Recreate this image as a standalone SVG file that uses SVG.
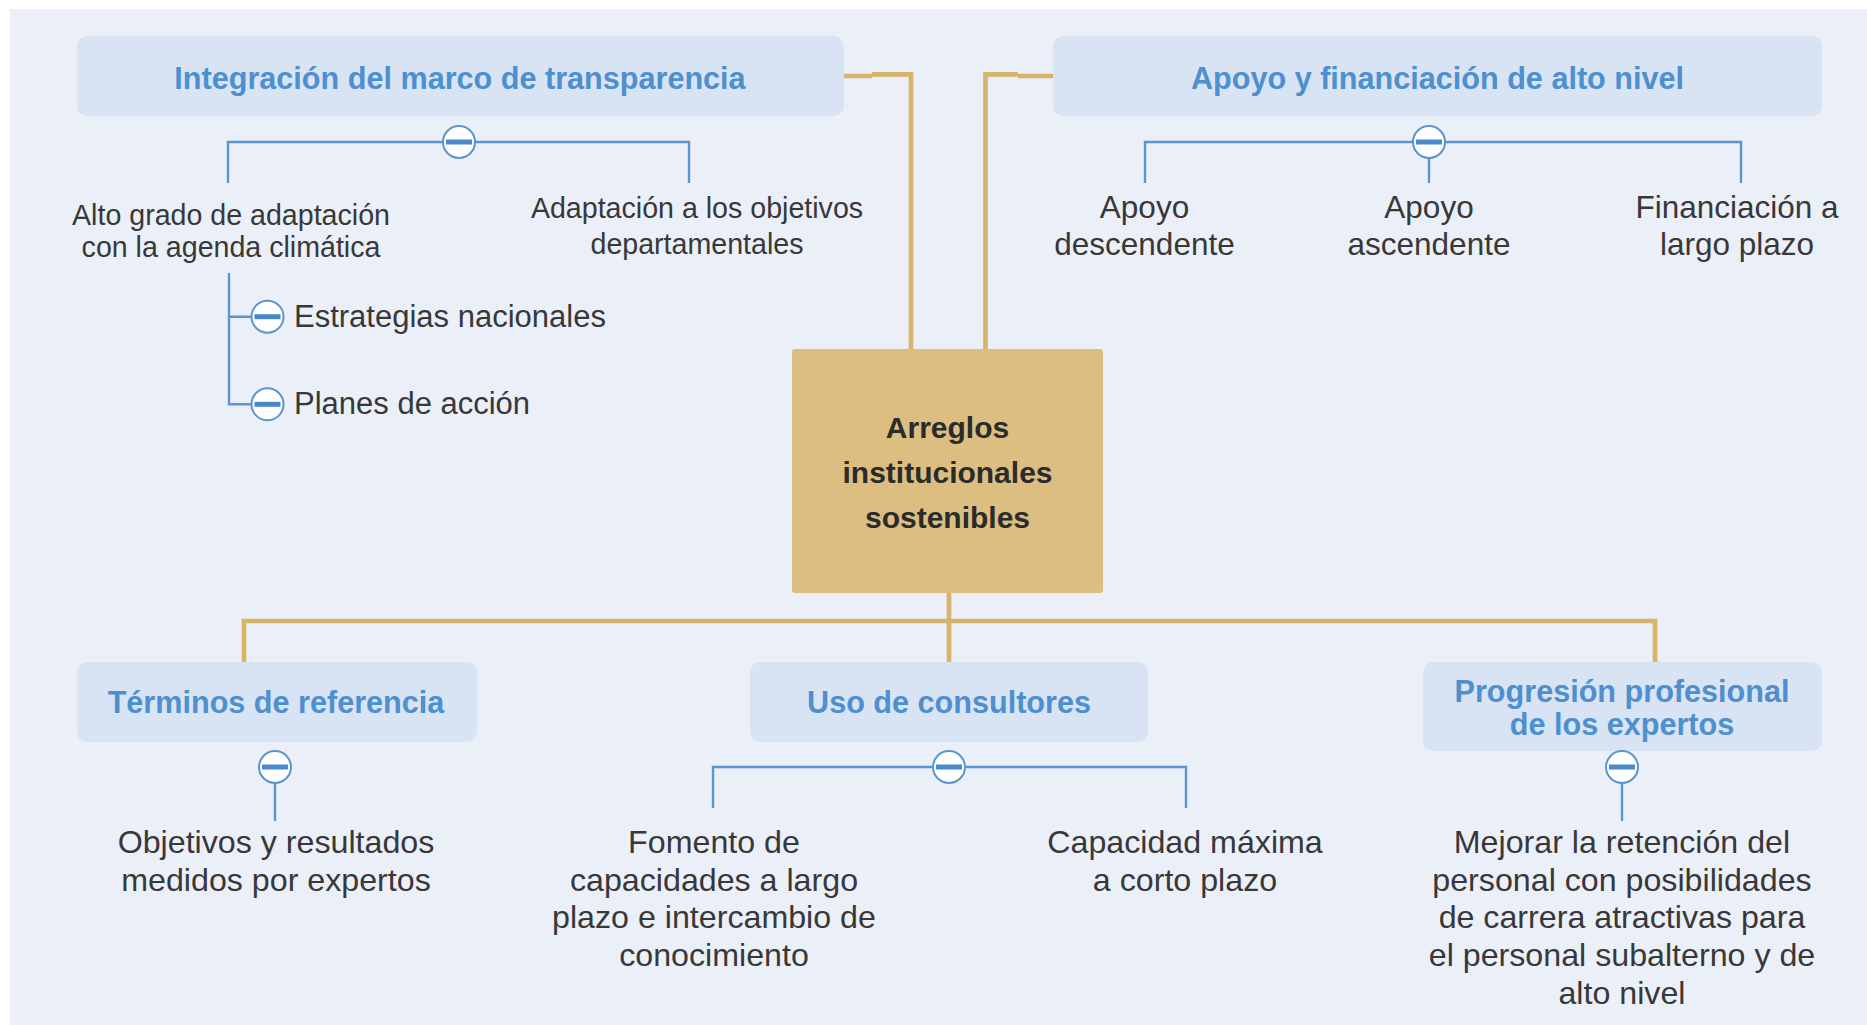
<svg xmlns="http://www.w3.org/2000/svg" width="1867" height="1025" viewBox="0 0 1867 1025">
<defs>
<style>
.bg{fill:#EBEFF8}
.box{fill:#D8E3F4}
.center{fill:#DBBE80}
.gold{fill:none;stroke:#D6B46A;stroke-width:4.7}
.blue{fill:none;stroke:#5B95D0;stroke-width:2.4}
.title{font-family:"Liberation Sans",Arial,sans-serif;font-weight:bold;font-size:30.6px;fill:#4D8FCF;text-anchor:middle}
.ctitle{font-family:"Liberation Sans",Arial,sans-serif;font-weight:bold;font-size:30px;fill:#2B2B2B;text-anchor:middle}
.t{font-family:"Liberation Sans",Arial,sans-serif;font-size:31.5px;fill:#383838;text-anchor:middle}
.tb{font-family:"Liberation Sans",Arial,sans-serif;font-size:32.2px;fill:#383838;text-anchor:middle}
.ts{font-family:"Liberation Sans",Arial,sans-serif;font-size:28.6px;fill:#383838;text-anchor:middle}
.tl{font-family:"Liberation Sans",Arial,sans-serif;font-size:31px;fill:#383838}
</style>
<g id="toggle">
<circle cx="0" cy="0" r="16" fill="#FFFFFF" stroke="#5B95D0" stroke-width="2"/>
<rect x="-13" y="-2.5" width="26" height="5" fill="#4A88CC"/>
</g>
</defs>
<rect class="bg" x="10" y="9" width="1857" height="1016"/>

<g id="connectors">
<path class="gold" d="M844,76 H872 M872,74.3 H911 V349"/>
<path class="gold" d="M1053,76 H1018 M1018,74.3 H985.5 V349"/>
<path class="gold" d="M949,593 V662"/>
<path class="gold" d="M244,662 V621 H1655 V662"/>
<path class="blue" d="M228,183 V142 H689 V183"/>
<path class="blue" d="M229,273 V404.3 H251 M229,316.7 H251"/>
<path class="blue" d="M1145,183 V142 H1741 V183 M1429,158 V183"/>
<path class="blue" d="M275,783 V821"/>
<path class="blue" d="M713,808 V767 H1186 V808"/>
<path class="blue" d="M1622,783 V821"/>
</g>

<g id="node-center">
<rect class="center" x="792" y="349" width="311" height="244" rx="3"/>
<text class="ctitle" x="947.5" y="438">Arreglos</text>
<text class="ctitle" x="947.5" y="483">institucionales</text>
<text class="ctitle" x="947.5" y="528">sostenibles</text>
</g>

<g id="node-integracion">
<rect class="box" x="77" y="36" width="767" height="80" rx="10"/>
<text class="title" x="460" y="89">Integración del marco de transparencia</text>
<use href="#toggle" x="459" y="142"/>
</g>
<g id="node-alto-grado">
<text class="ts" x="231" y="225">Alto grado de adaptación</text>
<text class="ts" x="231" y="257">con la agenda climática</text>
</g>
<g id="node-adaptacion">
<text class="ts" x="697" y="218">Adaptación a los objetivos</text>
<text class="ts" x="697" y="253.5">departamentales</text>
</g>
<g id="node-estrategias">
<use href="#toggle" x="267.5" y="316.7"/>
<text class="tl" x="294" y="327">Estrategias nacionales</text>
</g>
<g id="node-planes">
<use href="#toggle" x="267.5" y="404.3"/>
<text class="tl" x="294" y="414">Planes de acción</text>
</g>

<g id="node-apoyo-financiacion">
<rect class="box" x="1053" y="36" width="769" height="80" rx="10"/>
<text class="title" x="1437.5" y="89">Apoyo y financiación de alto nivel</text>
<use href="#toggle" x="1429" y="142"/>
</g>
<g id="node-descendente">
<text class="t" x="1144.5" y="218">Apoyo</text>
<text class="t" x="1144.5" y="255">descendente</text>
</g>
<g id="node-ascendente">
<text class="t" x="1429" y="218">Apoyo</text>
<text class="t" x="1429" y="255">ascendente</text>
</g>
<g id="node-largo-plazo">
<text class="t" x="1737" y="218">Financiación a</text>
<text class="t" x="1737" y="255">largo plazo</text>
</g>

<g id="node-terminos">
<rect class="box" x="77" y="662" width="400" height="80" rx="10"/>
<text class="title" x="276" y="713">Términos de referencia</text>
<use href="#toggle" x="275" y="767"/>
</g>
<g id="node-objetivos">
<text class="tb" x="276" y="853">Objetivos y resultados</text>
<text class="tb" x="276" y="891">medidos por expertos</text>
</g>

<g id="node-uso">
<rect class="box" x="750" y="662" width="398" height="80" rx="10"/>
<text class="title" x="949" y="713">Uso de consultores</text>
<use href="#toggle" x="949" y="767"/>
</g>
<g id="node-fomento">
<text class="tb" x="714" y="853">Fomento de</text>
<text class="tb" x="714" y="890.7">capacidades a largo</text>
<text class="tb" x="714" y="928.3">plazo e intercambio de</text>
<text class="tb" x="714" y="966">conocimiento</text>
</g>
<g id="node-capacidad">
<text class="tb" x="1185" y="853">Capacidad máxima</text>
<text class="tb" x="1185" y="890.7">a corto plazo</text>
</g>

<g id="node-progresion">
<rect class="box" x="1423" y="662" width="399" height="89" rx="10"/>
<text class="title" x="1622" y="701.5">Progresión profesional</text>
<text class="title" x="1622" y="735">de los expertos</text>
<use href="#toggle" x="1622" y="767"/>
</g>
<g id="node-mejorar">
<text class="tb" x="1622" y="853">Mejorar la retención del</text>
<text class="tb" x="1622" y="890.7">personal con posibilidades</text>
<text class="tb" x="1622" y="928.3">de carrera atractivas para</text>
<text class="tb" x="1622" y="966">el personal subalterno y de</text>
<text class="tb" x="1622" y="1003.6">alto nivel</text>
</g>
</svg>
